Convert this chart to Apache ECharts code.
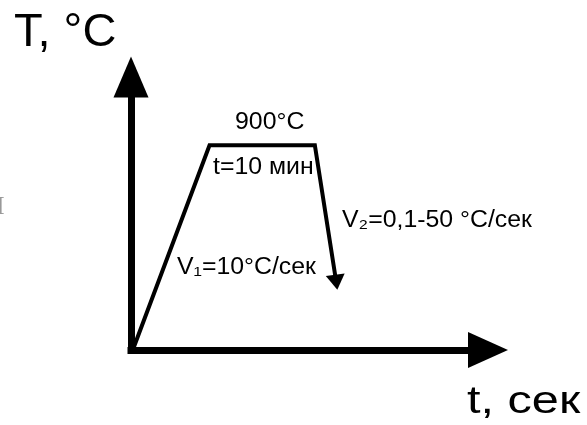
<!DOCTYPE html>
<html>
<head>
<meta charset="utf-8">
<script src="https://cdn.jsdelivr.net/npm/echarts@6/dist/echarts.min.js"></script>
<style>
html, body { margin: 0; padding: 0; background: #fff; }
#chart { width: 587px; height: 425px; }
</style>
</head>
<body>
<div id="chart"></div>
<script>
// режим термообработки: время (условные единицы) и температура, °C
var timePoints = [0.5, 22, 51.5, 57.5];
var tempPoints = [0, 900, 900, 298];
var axisNames = ['t, сек', 'T, °C'];
var notes = ['900°C', 't=10 мин', 'V₁=10°C/сек', 'V₂=0,1-50 °C/сек'];

var chart = echarts.init(document.getElementById('chart'));

var last = timePoints.length - 1;
var pathData = timePoints.map(function (t, i) {
    if (i === last) {
        // стрелка охлаждения
        return { value: [t, tempPoints[i]], symbol: 'triangle', symbolSize: [19, 15], symbolRotate: 188 };
    }
    return [t, tempPoints[i]];
});

var font = '"Liberation Sans", Arial, sans-serif';

function label(text, x, y, size, extra) {
    var el = {
        type: 'text',
        x: x,
        y: y,
        style: {
            text: text,
            fill: '#000',
            fontSize: size,
            fontFamily: font,
            align: 'left',
            verticalAlign: 'top'
        }
    };
    for (var k in extra) el[k] = extra[k];
    return el;
}

var small = { scaleX: 1.08 };

var option = {
    animation: false,
    backgroundColor: '#fff',
    grid: { left: 131, right: 99, top: 77, bottom: 75 },
    xAxis: {
        type: 'value',
        min: 0,
        max: 100,
        axisLine: {
            show: true,
            onZero: false,
            symbol: ['none', 'triangle'],
            symbolSize: [36, 40],
            lineStyle: { color: '#000', width: 7, cap: 'square' }
        },
        axisTick: { show: false },
        axisLabel: { show: false },
        splitLine: { show: false }
    },
    yAxis: {
        type: 'value',
        min: 0,
        max: 1200,
        axisLine: {
            show: true,
            onZero: false,
            symbol: ['none', 'triangle'],
            symbolSize: [35, 41],
            lineStyle: { color: '#000', width: 7, cap: 'square' }
        },
        axisTick: { show: false },
        axisLabel: { show: false },
        splitLine: { show: false }
    },
    series: [{
        type: 'line',
        data: pathData,
        symbol: 'none',
        showSymbol: true,
        itemStyle: { color: '#000' },
        lineStyle: { color: '#000', width: 4, join: 'miter' },
        silent: true
    }],
    graphic: [
        label(axisNames[1], 14, 10, 47),
        label(axisNames[0], 467, 384, 38, { scaleX: 1.28 }),
        label(notes[0], 235, 111, 23, small),
        label(notes[1], 213, 156, 23, small),
        label(notes[2], 177, 256, 23, small),
        label(notes[3], 342, 209, 23, small),
        {
            type: 'text',
            x: -4,
            y: 194,
            style: { text: 'I', fill: '#999', fontSize: 26, fontFamily: '"Liberation Serif", serif' }
        }
    ]
};

chart.setOption(option);
</script>
</body>
</html>
